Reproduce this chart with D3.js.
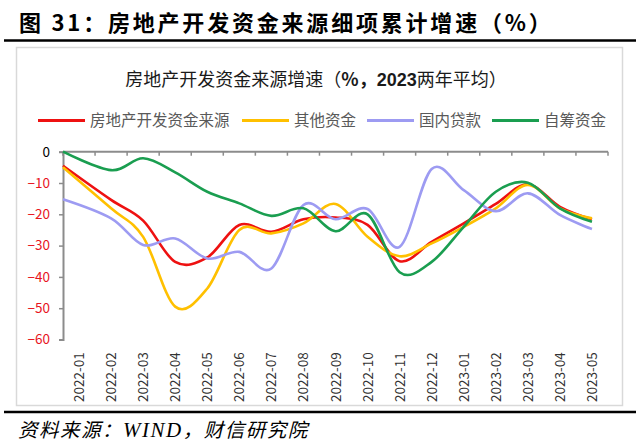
<!DOCTYPE html>
<html>
<head>
<meta charset="utf-8">
<script src="https://cdn.jsdelivr.net/npm/d3@7"></script>
<style>
  body { margin: 0; background: #fff; }
  svg { display: block; }
  text { font-family: "Noto Sans CJK SC", "Liberation Sans", sans-serif; }
</style>
</head>
<body>
<div id="chart"></div>
<script>
var categories = ['2022-01','2022-02','2022-03','2022-04','2022-05','2022-06','2022-07','2022-08','2022-09',
                  '2022-10','2022-11','2022-12','2023-01','2023-02','2023-03','2023-04','2023-05'];

// 房地产开发资金来源
var totalFunds = [-4.5, -15.4, -22, -35.2, -33.8, -23.4, -25.6, -21.6, -21, -23.4, -35, -28.8, -22.9, -16.7, -10.4, -17.6, -21.6];
// 其他资金
var otherFunds = [-5, -18.1, -27.2, -49.5, -43.7, -25, -26.1, -22.9, -16.7, -27.2, -33.4, -29.3, -24, -18.1, -10.6, -18.1, -21.3];
// 国内贷款
var domesticLoans = [-15.2, -21.3, -29.8, -27.7, -34.1, -32, -37.3, -17, -21.6, -18.3, -30.4, -5.5, -12.3, -19, -13.3, -20.2, -24.7];
// 自筹资金
var selfRaised = [0, -5.9, -2.1, -6.6, -12.8, -16.5, -20.5, -18.1, -25.4, -20, -38.5, -35.2, -24, -12.8, -9.9, -18.1, -22.4];

var yTicks = [0, -10, -20, -30, -40, -50, -60];

var series = [
  {name: '房地产开发资金来源', values: totalFunds, color: '#ee1111'},
  {name: '其他资金', values: otherFunds, color: '#ffc000'},
  {name: '国内贷款', values: domesticLoans, color: '#9d9bf2'},
  {name: '自筹资金', values: selfRaised, color: '#1a9e50'}
];

var W = 640, H = 444;
var svg = d3.select('#chart').append('svg').attr('width', W).attr('height', H);

// page title
svg.append('text')
  .attr('x', 19).attr('y', 31)
  .attr('font-size', 22).attr('font-weight', 'bold')
  .attr('letter-spacing', 2.8)
  .attr('fill', '#000')
  .text('图 31：房地产开发资金来源细项累计增速（%）');

svg.append('line').attr('x1', 4).attr('x2', 636).attr('y1', 40.5).attr('y2', 40.5)
  .attr('stroke', '#000').attr('stroke-width', 2.5);

// chart frame
svg.append('rect').attr('x', 16.5).attr('y', 47.5).attr('width', 606).attr('height', 358)
  .attr('fill', '#fff').attr('stroke', '#d9d9d9').attr('stroke-width', 1.5);

svg.append('line').attr('x1', 4).attr('x2', 636).attr('y1', 412).attr('y2', 412)
  .attr('stroke', '#000').attr('stroke-width', 2.5);

// source
var src = svg.append('text')
  .attr('x', 18).attr('y', 437)
  .attr('font-size', 19.5).attr('font-style', 'italic')
  .attr('letter-spacing', 1.5)
  .attr('fill', '#000');
src.append('tspan').text('资料来源：');
src.append('tspan').attr('font-family', '"Liberation Serif", serif').attr('font-size', 21).text('WIND');
src.append('tspan').text('，财信研究院');

// chart title
var sub = svg.append('text')
  .attr('x', 316).attr('y', 86)
  .attr('text-anchor', 'middle')
  .attr('font-size', 18).attr('fill', '#1a1a1a');
sub.append('tspan').text('房地产开发资金来源增速（');
sub.append('tspan').attr('font-weight', 'bold').text('%，');
sub.append('tspan').attr('font-weight', 'bold').attr('font-family', '"Liberation Sans", sans-serif').text('2023');
sub.append('tspan').text('两年平均）');

// legend
var legendX = [38, 242, 367, 492];
var legend = svg.selectAll('.legend').data(series).enter().append('g')
  .attr('class', 'legend')
  .attr('transform', function(d, i){ return 'translate(' + legendX[i] + ',120.5)'; });
legend.append('line').attr('x1', 0).attr('x2', 47).attr('y1', 0).attr('y2', 0)
  .attr('stroke', function(d){ return d.color; }).attr('stroke-width', 3);
legend.append('text').attr('x', 52).attr('y', 5.5)
  .attr('font-size', 15.5).attr('fill', '#595959')
  .text(function(d){ return d.name; });

// scales
var x = d3.scaleBand().domain(categories).range([63, 608]).paddingInner(0).paddingOuter(0);
var y = d3.scaleLinear().domain([-60, 0]).range([339.5, 151.7]);

var px = function(c, i){
  return i === 0 ? x(c) : x(c) + x.bandwidth() / 2;
};

// y axis
var yAxis = svg.append('g').attr('transform', 'translate(63,0)')
  .call(d3.axisLeft(y).tickValues(yTicks).tickSize(4).tickFormat(d3.format('d')));
yAxis.select('.domain').attr('stroke', '#8c8c8c').attr('stroke-width', 2);
yAxis.selectAll('.tick line').attr('stroke', '#8c8c8c').attr('stroke-width', 1.5);
yAxis.selectAll('.tick text')
  .attr('x', -13)
  .attr('font-family', '"Liberation Sans", sans-serif').attr('font-size', 13.5)
  .attr('fill', function(d){ return d === 0 ? '#000' : '#e8141e'; });

// x axis at zero line, ticks between categories
var tickPos = categories.map(function(c){ return x(c); }).concat([x.range()[1]]);
var xAxisG = svg.append('g');
xAxisG.append('line').attr('x1', 63).attr('x2', x.range()[1]).attr('y1', y(0)).attr('y2', y(0))
  .attr('stroke', '#8c8c8c').attr('stroke-width', 2);
xAxisG.selectAll('.xtick').data(tickPos).enter().append('line')
  .attr('x1', function(d){ return d; }).attr('x2', function(d){ return d; })
  .attr('y1', y(0)).attr('y2', y(0) + 4)
  .attr('stroke', '#8c8c8c').attr('stroke-width', 1.5);

// x labels at the bottom, rotated
svg.selectAll('.xlabel').data(categories).enter().append('text')
  .attr('class', 'xlabel')
  .attr('transform', function(d){ return 'translate(' + (x(d) + x.bandwidth() / 2 + 5) + ',402) rotate(-90)'; })
  .attr('font-family', '"Liberation Sans", sans-serif').attr('font-size', 13.5)
  .attr('fill', '#333')
  .text(function(d){ return d; });

// lines
var line = d3.line()
  .x(function(d, i){ return px(categories[i], i); })
  .y(function(d){ return y(d); })
  .curve(d3.curveCardinal.tension(0));

svg.selectAll('.series').data(series).enter().append('path')
  .attr('class', 'series')
  .attr('d', function(d){ return line(d.values); })
  .attr('fill', 'none')
  .attr('stroke', function(d){ return d.color; })
  .attr('stroke-width', 2.6)
  .attr('stroke-linejoin', 'round');
</script>
</body>
</html>
